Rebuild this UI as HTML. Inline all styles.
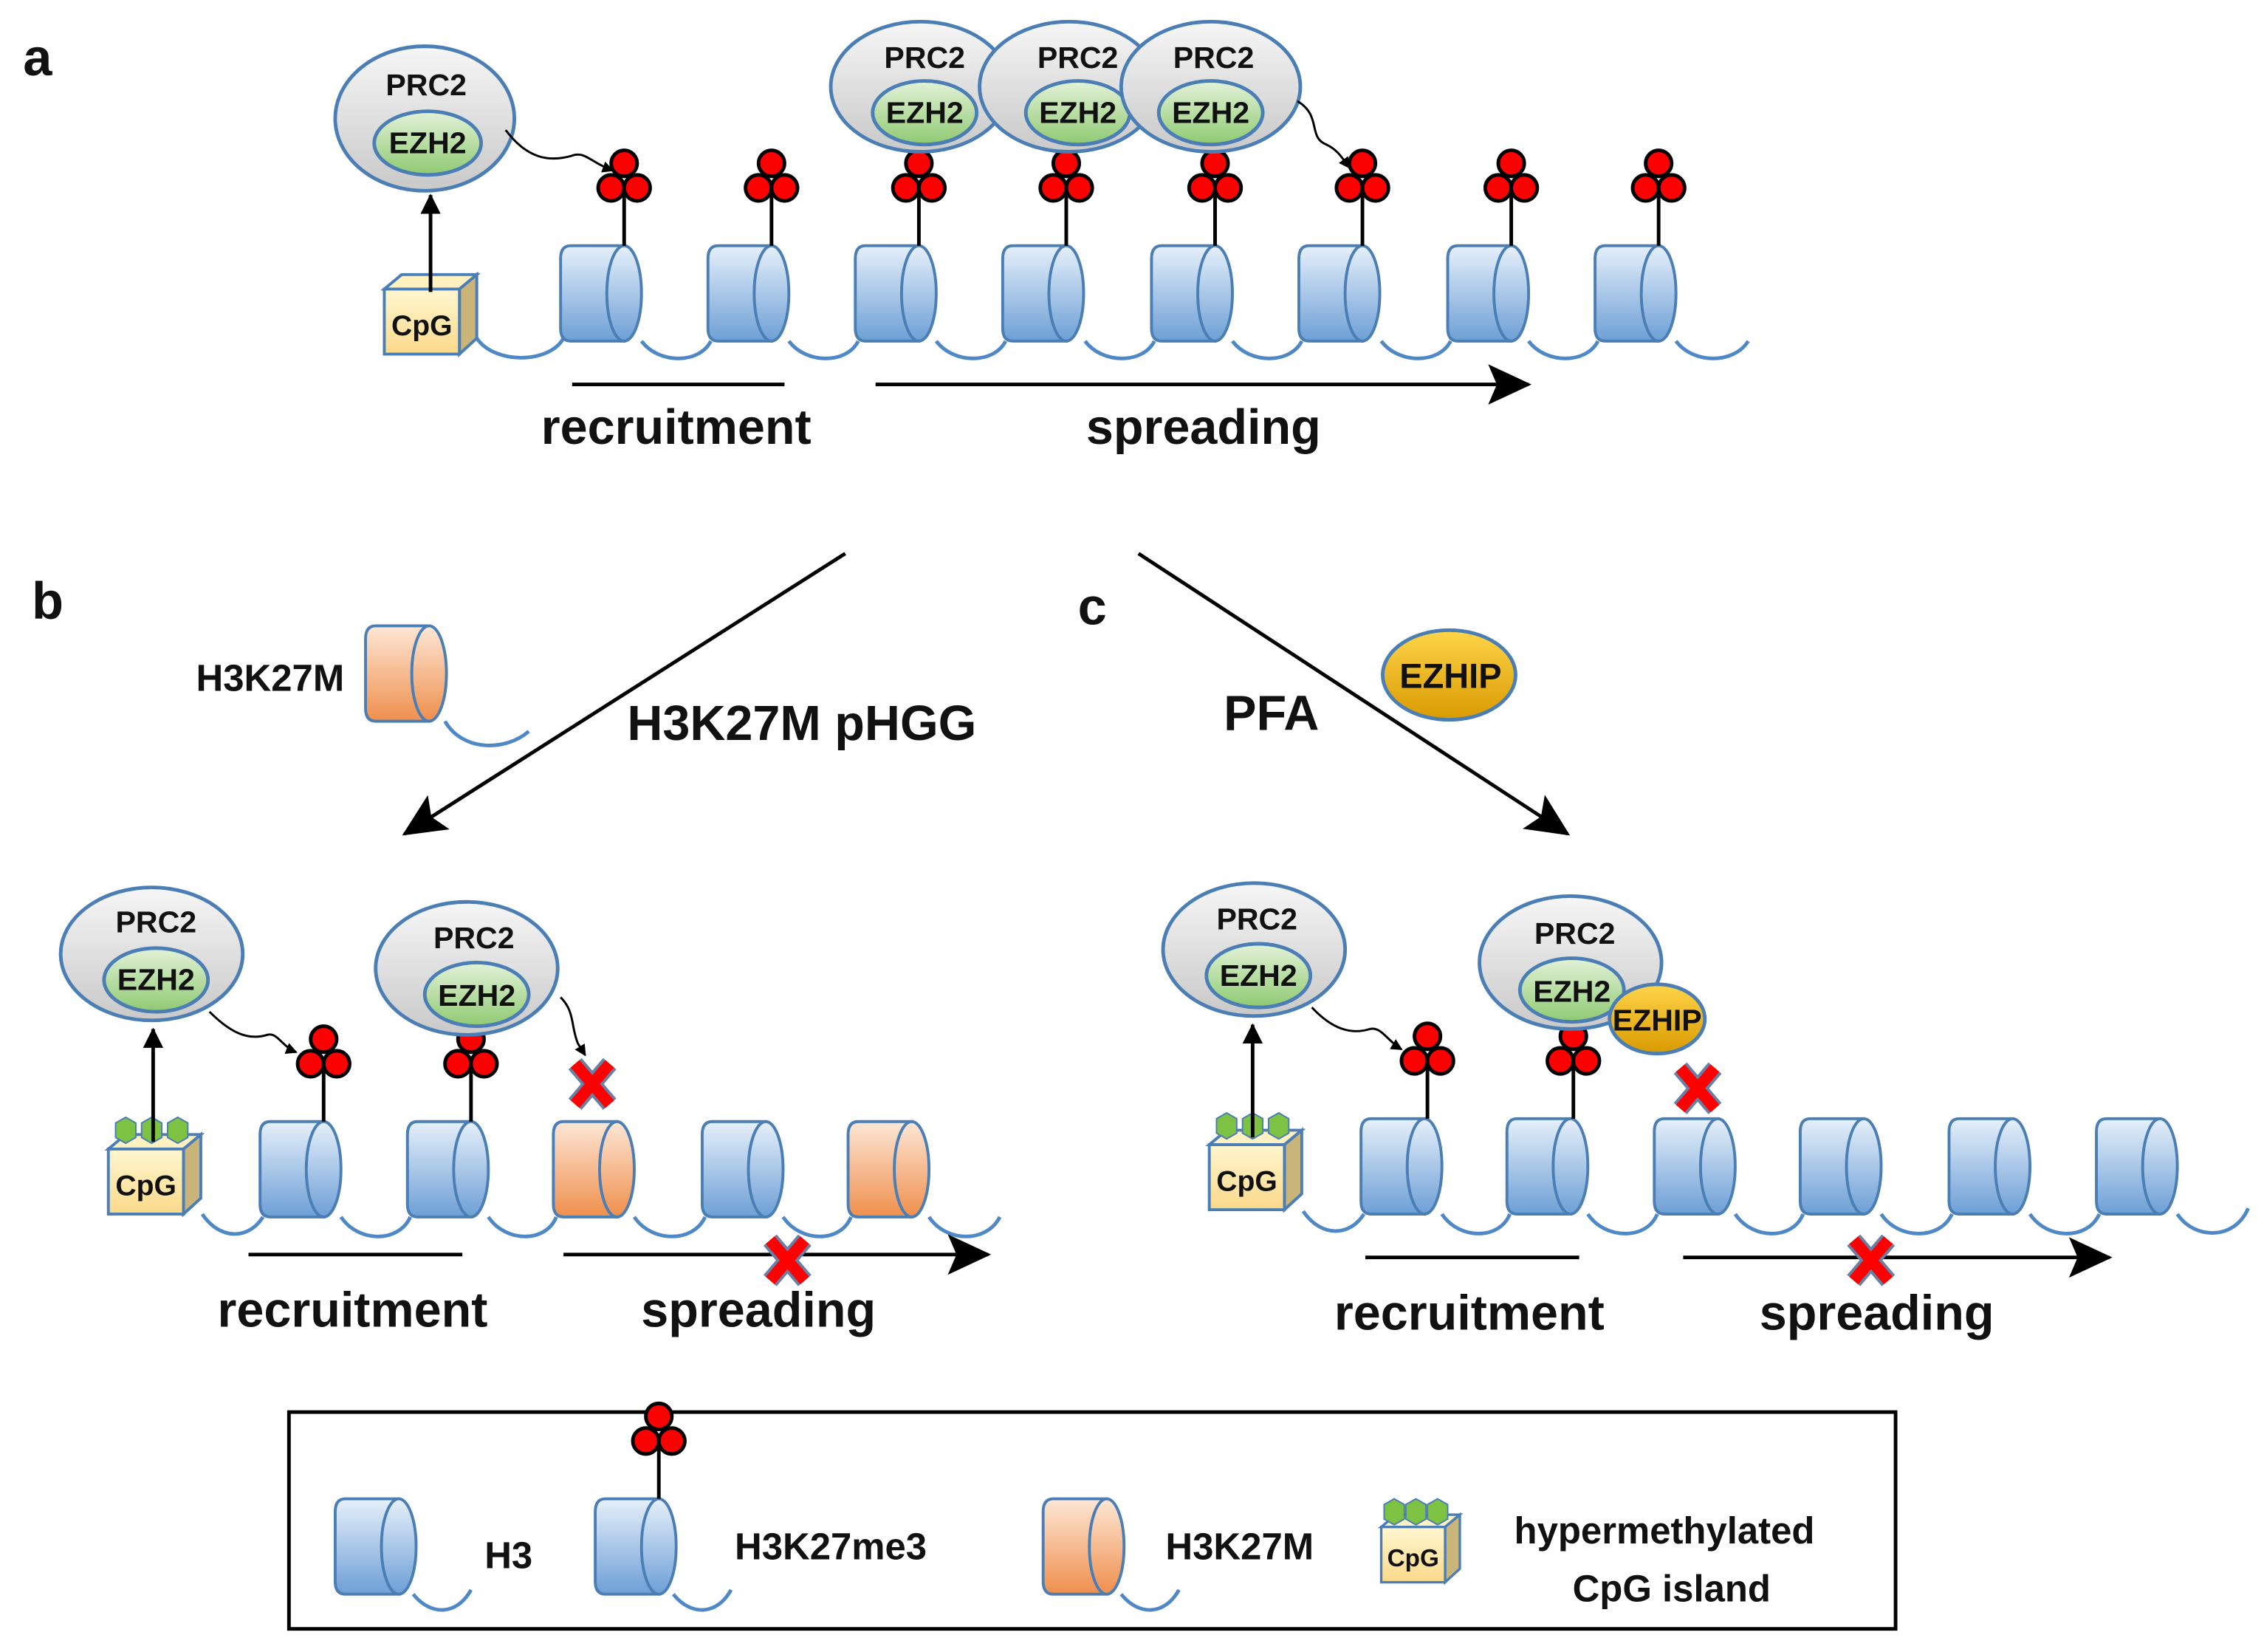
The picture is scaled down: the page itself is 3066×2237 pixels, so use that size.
<!DOCTYPE html>
<html><head><meta charset="utf-8"><style>
html,body{margin:0;padding:0;background:#fff}
svg{display:block}
text{font-family:"Liberation Sans Narrow","Liberation Sans",sans-serif;font-weight:bold;fill:#111}
</style></head><body>
<svg width="3066" height="2237" viewBox="0 0 1567 1143" preserveAspectRatio="none" xmlns="http://www.w3.org/2000/svg">
<defs>
<linearGradient id="gb" x1="0" y1="0" x2="0" y2="1"><stop offset="0" stop-color="#e6f0fa"/><stop offset="1" stop-color="#6d9fd6"/></linearGradient>
<linearGradient id="go" x1="0" y1="0" x2="0" y2="1"><stop offset="0" stop-color="#fde7d6"/><stop offset="1" stop-color="#ef8f4c"/></linearGradient>
<linearGradient id="gg" x1="0" y1="0" x2="0" y2="1"><stop offset="0" stop-color="#f6f6f6"/><stop offset="1" stop-color="#c9c9c9"/></linearGradient>
<linearGradient id="ggr" x1="0" y1="0" x2="0" y2="1"><stop offset="0" stop-color="#e3f2d8"/><stop offset="1" stop-color="#8fca72"/></linearGradient>
<linearGradient id="gy" x1="0" y1="0" x2="0" y2="1"><stop offset="0" stop-color="#ffd54a"/><stop offset="1" stop-color="#d99a00"/></linearGradient>
<linearGradient id="gc" x1="0" y1="0" x2="0" y2="1"><stop offset="0" stop-color="#fff7d0"/><stop offset="1" stop-color="#fbd98a"/></linearGradient>
<marker id="ah" markerWidth="8" markerHeight="8" refX="7" refY="4" orient="auto" markerUnits="userSpaceOnUse"><path d="M0,0 L8,4 L0,8z" fill="#000"/></marker>
<marker id="ahs" markerWidth="14" markerHeight="14" refX="13" refY="7" orient="auto" markerUnits="userSpaceOnUse"><path d="M0,0 L14,7 L0,14z" fill="#000"/></marker>
<marker id="ahb" markerWidth="30" markerHeight="28" refX="28" refY="14" orient="auto" markerUnits="userSpaceOnUse"><path d="M0,0 L30,14 L0,28 L6,14z" fill="#000"/></marker>
<g id="nuc"><path d="M44,0 H7 Q0,0 0,9 V57 Q0,66 7,66 H44 Z" fill="url(#gb)" stroke="#4a7eb5" stroke-width="2"/><ellipse cx="44" cy="33" rx="12" ry="33" fill="url(#gb)" stroke="#4a7eb5" stroke-width="2"/></g>
<g id="nuco"><path d="M44,0 H7 Q0,0 0,9 V57 Q0,66 7,66 H44 Z" fill="url(#go)" stroke="#4a7eb5" stroke-width="2"/><ellipse cx="44" cy="33" rx="12" ry="33" fill="url(#go)" stroke="#4a7eb5" stroke-width="2"/></g>
<g id="mark"><line x1="0" y1="0" x2="0" y2="-42" stroke="#000" stroke-width="2.5"/><g fill="#f00" stroke="#000" stroke-width="2.5"><circle cx="0" cy="-57" r="9"/><circle cx="-9" cy="-40" r="9"/><circle cx="9" cy="-40" r="9"/></g></g>
<g id="cpg"><path d="M0,10 L12,0 L64,0 L52,10z" fill="#fff1c0" stroke="#4a7eb5" stroke-width="2"/><path d="M52,10 L64,0 L64,44 L52,55z" fill="#c9b47a" stroke="#4a7eb5" stroke-width="2"/><rect x="0" y="10" width="52" height="45" fill="url(#gc)" stroke="#4a7eb5" stroke-width="2"/><text x="26" y="42" font-size="20" text-anchor="middle">CpG</text></g>
<g id="hex"><path d="M0,-9 L7,-5 L7,5 L0,9 L-7,5 L-7,-5z" fill="#7dc242" stroke="#4a7eb5" stroke-width="1"/></g>
<g id="x"><path d="M-12,-14 L12,14 M12,-14 L-12,14" stroke="#6a7fa5" stroke-width="12"/><path d="M-12,-14 L12,14 M12,-14 L-12,14" stroke="#f00" stroke-width="8"/></g>
</defs>

<!-- panel labels -->
<text x="16" y="52" font-size="36" font-family="Liberation Sans">a</text>
<text x="22" y="428" font-size="36" font-family="Liberation Sans">b</text>
<text x="746" y="432" font-size="36" font-family="Liberation Sans">c</text>

<!-- ===== Panel a ===== -->
<g fill="none" stroke="#4f88c6" stroke-width="2.5">
<path d="M330,234 C342,252 380,252 390,234 M444,236 C456,252 484,252 492,236 M546,236 C558,252 586,252 594,236 M648,236 C660,252 688,252 696,236 M751,236 C763,252 791,252 799,236 M853,236 C865,252 893,252 901,236 M956,236 C968,252 996,252 1004,236 M1058,236 C1070,252 1098,252 1106,236 M1160,236 C1172,252 1200,252 1210,236"/>
</g>
<use href="#nuc" x="388" y="170"/><use href="#nuc" x="490" y="170"/><use href="#nuc" x="592" y="170"/><use href="#nuc" x="694" y="170"/><use href="#nuc" x="797" y="170"/><use href="#nuc" x="899" y="170"/><use href="#nuc" x="1002" y="170"/><use href="#nuc" x="1104" y="170"/>
<use href="#mark" x="432" y="170"/><use href="#mark" x="534" y="170"/><use href="#mark" x="636" y="170"/><use href="#mark" x="738" y="170"/><use href="#mark" x="841" y="170"/><use href="#mark" x="943" y="170"/><use href="#mark" x="1046" y="170"/><use href="#mark" x="1148" y="170"/>
<use href="#cpg" x="266" y="190"/>
<line x1="298" y1="202" x2="298" y2="135" stroke="#000" stroke-width="2.5" marker-end="url(#ahs)"/>
<ellipse cx="294" cy="82" rx="62" ry="50" fill="url(#gg)" stroke="#4a7eb5" stroke-width="2.5"/>
<ellipse cx="296" cy="99" rx="37" ry="22" fill="url(#ggr)" stroke="#4a7eb5" stroke-width="2.5"/>
<text x="295" y="66" font-size="21" text-anchor="middle">PRC2</text><text x="296" y="106" font-size="21" text-anchor="middle">EZH2</text>
<path d="M350,90 C365,110 380,112 395,108 C405,104 408,112 424,118" fill="none" stroke="#000" stroke-width="1.5" marker-end="url(#ah)"/>
<g>
<ellipse cx="637" cy="60" rx="62" ry="45" fill="url(#gg)" stroke="#4a7eb5" stroke-width="2.5"/>
<ellipse cx="640" cy="78" rx="36" ry="22" fill="url(#ggr)" stroke="#4a7eb5" stroke-width="2.5"/>
<ellipse cx="740" cy="60" rx="62" ry="45" fill="url(#gg)" stroke="#4a7eb5" stroke-width="2.5"/>
<ellipse cx="746" cy="78" rx="36" ry="22" fill="url(#ggr)" stroke="#4a7eb5" stroke-width="2.5"/>
<ellipse cx="838" cy="60" rx="62" ry="45" fill="url(#gg)" stroke="#4a7eb5" stroke-width="2.5"/>
<ellipse cx="838" cy="78" rx="36" ry="22" fill="url(#ggr)" stroke="#4a7eb5" stroke-width="2.5"/>
<text x="640" y="47" font-size="21" text-anchor="middle">PRC2</text><text x="640" y="85" font-size="21" text-anchor="middle">EZH2</text>
<text x="746" y="47" font-size="21" text-anchor="middle">PRC2</text><text x="746" y="85" font-size="21" text-anchor="middle">EZH2</text>
<text x="840" y="47" font-size="21" text-anchor="middle">PRC2</text><text x="838" y="85" font-size="21" text-anchor="middle">EZH2</text>
</g>
<path d="M898,70 C915,80 905,95 918,100 C926,104 928,108 934,116" fill="none" stroke="#000" stroke-width="1.5" marker-end="url(#ah)"/>
<line x1="396" y1="266" x2="543" y2="266" stroke="#000" stroke-width="2.5"/>
<line x1="606" y1="266" x2="1058" y2="266" stroke="#000" stroke-width="2.5" marker-end="url(#ahb)"/>
<text x="468" y="307" font-size="34" text-anchor="middle">recruitment</text>
<text x="833" y="307" font-size="34" text-anchor="middle">spreading</text>

<!-- diagonal arrows -->
<line x1="585" y1="383" x2="280" y2="577" stroke="#000" stroke-width="2.5" marker-end="url(#ahb)"/>
<line x1="788" y1="383" x2="1085" y2="577" stroke="#000" stroke-width="2.5" marker-end="url(#ahb)"/>
<text x="555" y="512" font-size="34" text-anchor="middle">H3K27M pHGG</text>
<text x="880" y="505" font-size="34" text-anchor="middle">PFA</text>
<ellipse cx="1003" cy="467" rx="46" ry="31" fill="url(#gy)" stroke="#4a7eb5" stroke-width="2.5"/>
<text x="1004" y="476" font-size="24" text-anchor="middle">EZHIP</text>

<!-- H3K27M lone -->
<text x="187" y="478" font-size="26" text-anchor="middle">H3K27M</text>
<use href="#nuco" x="253" y="433"/>
<path d="M308,499 C320,520 350,520 366,506" fill="none" stroke="#4f88c6" stroke-width="2.5"/>

<!-- ===== Panel b ===== -->
<g fill="none" stroke="#4f88c6" stroke-width="2.5">
<path d="M140,840 C152,858 172,858 182,842 M236,842 C248,860 276,860 284,842 M338,842 C350,860 378,860 385,842 M439,842 C451,860 480,860 488,842 M542,842 C554,860 582,860 589,842 M643,842 C655,860 683,860 692,842"/>
</g>
<use href="#nuc" x="180" y="776"/><use href="#nuc" x="282" y="776"/><use href="#nuco" x="383" y="776"/><use href="#nuc" x="486" y="776"/><use href="#nuco" x="587" y="776"/>
<use href="#mark" x="224" y="776"/><use href="#mark" x="326" y="776"/>
<use href="#cpg" x="75" y="785"/>
<use href="#hex" x="87" y="782"/><use href="#hex" x="105" y="782"/><use href="#hex" x="123" y="782"/>
<line x1="106" y1="790" x2="106" y2="712" stroke="#000" stroke-width="2.5" marker-end="url(#ahs)"/>
<ellipse cx="105" cy="660" rx="63" ry="46" fill="url(#gg)" stroke="#4a7eb5" stroke-width="2.5"/>
<ellipse cx="108" cy="678" rx="36" ry="22" fill="url(#ggr)" stroke="#4a7eb5" stroke-width="2.5"/>
<text x="108" y="645" font-size="21" text-anchor="middle">PRC2</text><text x="108" y="685" font-size="21" text-anchor="middle">EZH2</text>
<path d="M145,700 C160,715 172,720 185,716 C192,714 195,724 205,728" fill="none" stroke="#000" stroke-width="1.5" marker-end="url(#ah)"/>
<ellipse cx="323" cy="670" rx="63" ry="46" fill="url(#gg)" stroke="#4a7eb5" stroke-width="2.5"/>
<ellipse cx="330" cy="688" rx="36" ry="22" fill="url(#ggr)" stroke="#4a7eb5" stroke-width="2.5"/>
<text x="328" y="656" font-size="21" text-anchor="middle">PRC2</text><text x="330" y="696" font-size="21" text-anchor="middle">EZH2</text>
<path d="M388,690 C398,700 395,710 400,722 L405,730" fill="none" stroke="#000" stroke-width="1.5" marker-end="url(#ah)"/>
<use href="#x" x="410" y="750"/>
<line x1="172" y1="868" x2="320" y2="868" stroke="#000" stroke-width="2.5"/>
<line x1="390" y1="868" x2="684" y2="868" stroke="#000" stroke-width="2.5" marker-end="url(#ahb)"/>
<use href="#x" x="545" y="872"/>
<text x="244" y="918" font-size="34" text-anchor="middle">recruitment</text>
<text x="525" y="918" font-size="34" text-anchor="middle">spreading</text>

<!-- ===== Panel c ===== -->
<g fill="none" stroke="#4f88c6" stroke-width="2.5">
<path d="M902,838 C914,856 934,856 944,840 M998,840 C1010,858 1038,858 1045,840 M1099,840 C1111,858 1140,858 1147,840 M1201,840 C1213,858 1241,858 1248,840 M1302,840 C1314,858 1343,858 1351,840 M1405,840 C1417,858 1445,858 1453,840 M1507,840 C1519,858 1547,858 1556,836"/>
</g>
<use href="#nuc" x="942" y="774"/><use href="#nuc" x="1043" y="774"/><use href="#nuc" x="1145" y="774"/><use href="#nuc" x="1246" y="774"/><use href="#nuc" x="1349" y="774"/><use href="#nuc" x="1451" y="774"/>
<use href="#mark" x="988" y="774"/><use href="#mark" x="1089" y="774"/>
<use href="#cpg" x="837" y="782"/>
<use href="#hex" x="849" y="779"/><use href="#hex" x="867" y="779"/><use href="#hex" x="885" y="779"/>
<line x1="867" y1="787" x2="867" y2="709" stroke="#000" stroke-width="2.5" marker-end="url(#ahs)"/>
<ellipse cx="868" cy="657" rx="63" ry="46" fill="url(#gg)" stroke="#4a7eb5" stroke-width="2.5"/>
<ellipse cx="871" cy="675" rx="36" ry="22" fill="url(#ggr)" stroke="#4a7eb5" stroke-width="2.5"/>
<text x="870" y="643" font-size="21" text-anchor="middle">PRC2</text><text x="871" y="682" font-size="21" text-anchor="middle">EZH2</text>
<path d="M908,697 C922,712 935,716 948,712 C956,710 960,720 970,726" fill="none" stroke="#000" stroke-width="1.5" marker-end="url(#ah)"/>
<ellipse cx="1087" cy="666" rx="63" ry="46" fill="url(#gg)" stroke="#4a7eb5" stroke-width="2.5"/>
<ellipse cx="1088" cy="685" rx="36" ry="22" fill="url(#ggr)" stroke="#4a7eb5" stroke-width="2.5"/>
<text x="1090" y="653" font-size="21" text-anchor="middle">PRC2</text><text x="1088" y="693" font-size="21" text-anchor="middle">EZH2</text>
<ellipse cx="1147" cy="705" rx="33" ry="24" fill="url(#gy)" stroke="#4a7eb5" stroke-width="2.5"/>
<text x="1147" y="713" font-size="21" text-anchor="middle">EZHIP</text>
<use href="#x" x="1175" y="753"/>
<line x1="945" y1="870" x2="1093" y2="870" stroke="#000" stroke-width="2.5"/>
<line x1="1165" y1="870" x2="1460" y2="870" stroke="#000" stroke-width="2.5" marker-end="url(#ahb)"/>
<use href="#x" x="1295" y="872"/>
<text x="1017" y="920" font-size="34" text-anchor="middle">recruitment</text>
<text x="1299" y="920" font-size="34" text-anchor="middle">spreading</text>

<!-- ===== Legend ===== -->
<rect x="200" y="977" width="1112" height="150" fill="none" stroke="#000" stroke-width="2.5"/>
<use href="#nuc" x="232" y="1037"/>
<path d="M286,1103 C298,1118 316,1118 326,1100" fill="none" stroke="#4f88c6" stroke-width="2.5"/>
<text x="352" y="1085" font-size="26" text-anchor="middle">H3</text>
<use href="#nuc" x="412" y="1037"/>
<use href="#mark" x="456" y="1037"/>
<path d="M466,1103 C478,1118 496,1118 506,1100" fill="none" stroke="#4f88c6" stroke-width="2.5"/>
<text x="575" y="1079" font-size="26" text-anchor="middle">H3K27me3</text>
<use href="#nuco" x="722" y="1037"/>
<path d="M776,1103 C788,1118 806,1118 816,1100" fill="none" stroke="#4f88c6" stroke-width="2.5"/>
<text x="858" y="1079" font-size="26" text-anchor="middle">H3K27M</text>
<g transform="translate(956,1048) scale(0.85)"><use href="#cpg" x="0" y="0"/></g>
<use href="#hex" x="965" y="1046"/><use href="#hex" x="980" y="1046"/><use href="#hex" x="995" y="1046"/>
<text x="1152" y="1068" font-size="26" text-anchor="middle">hypermethylated</text>
<text x="1157" y="1108" font-size="26" text-anchor="middle">CpG island</text>
</svg>
</body></html>
